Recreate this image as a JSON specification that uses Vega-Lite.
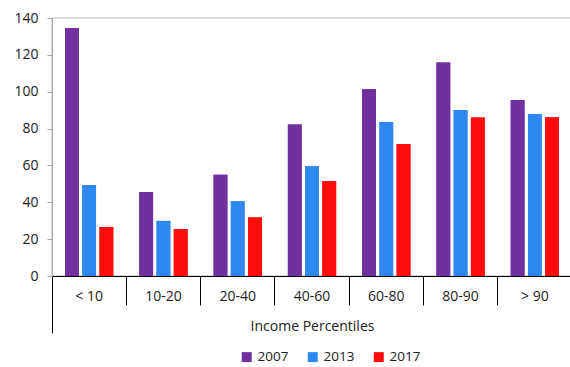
{
  "$schema": "https://vega.github.io/schema/vega-lite/v6.json",
  "autosize": "none",
  "padding": {"left": 52, "top": 18, "right": 0, "bottom": 91},
  "width": 520,
  "height": 258,
  "config": {
    "font": "Open Sans",
    "view": {"stroke": "#CFCFCF", "strokeWidth": 1.5},
    "axis": {"labelFont": "Open Sans", "titleFont": "Open Sans", "labelColor": "#222222", "titleColor": "#222222", "grid": false}
  },
  "data": {
    "values": [
      {"pct": "< 10", "year": "2007", "value": 134.6},
      {"pct": "< 10", "year": "2013", "value": 49.4},
      {"pct": "< 10", "year": "2017", "value": 26.6},
      {"pct": "10-20", "year": "2007", "value": 45.6},
      {"pct": "10-20", "year": "2013", "value": 29.9},
      {"pct": "10-20", "year": "2017", "value": 25.5},
      {"pct": "20-40", "year": "2007", "value": 55.0},
      {"pct": "20-40", "year": "2013", "value": 40.5},
      {"pct": "20-40", "year": "2017", "value": 31.8},
      {"pct": "40-60", "year": "2007", "value": 82.2},
      {"pct": "40-60", "year": "2013", "value": 59.7},
      {"pct": "40-60", "year": "2017", "value": 51.5},
      {"pct": "60-80", "year": "2007", "value": 101.4},
      {"pct": "60-80", "year": "2013", "value": 83.5},
      {"pct": "60-80", "year": "2017", "value": 71.6},
      {"pct": "80-90", "year": "2007", "value": 115.9},
      {"pct": "80-90", "year": "2013", "value": 90.1},
      {"pct": "80-90", "year": "2017", "value": 86.0},
      {"pct": "> 90", "year": "2007", "value": 95.5},
      {"pct": "> 90", "year": "2013", "value": 87.9},
      {"pct": "> 90", "year": "2017", "value": 86.2}
    ]
  },
  "encoding": {
    "xOffset": {
      "field": "year",
      "type": "nominal",
      "scale": {"paddingInner": 0.2, "paddingOuter": 0}
    },
    "y": {
      "field": "value",
      "type": "quantitative",
      "scale": {"domain": [0, 140]},
      "axis": {
        "title": null,
        "values": [0, 20, 40, 60, 80, 100, 120, 140],
        "labelFontSize": 14,
        "labelPadding": 9,
        "tickSize": 5,
        "domainColor": "#A6A6A6",
        "tickColor": "#A6A6A6"
      }
    },
    "color": {
      "field": "year",
      "type": "nominal",
      "scale": {"domain": ["2007", "2013", "2017"], "range": ["#7030A0", "#2E88F0", "#FF0D0D"]},
      "legend": {
        "title": null,
        "orient": "none",
        "direction": "horizontal",
        "legendX": 188,
        "legendY": 332,
        "symbolType": "square",
        "symbolSize": 100,
        "symbolStrokeWidth": 0,
        "labelFontSize": 13.5,
        "labelFont": "Open Sans",
        "labelColor": "#222222",
        "labelOffset": 4,
        "columnPadding": 17
      }
    }
  },
  "layer": [
    {
      "mark": {"type": "bar"},
      "encoding": {
        "x": {
          "field": "pct",
          "type": "nominal",
          "sort": ["< 10", "10-20", "20-40", "40-60", "60-80", "80-90", "> 90"],
          "scale": {"paddingInner": 0.35, "paddingOuter": 0.175},
          "axis": {
            "orient": "bottom",
            "title": "Income Percentiles",
            "titleFontSize": 14,
            "titleFontWeight": "normal",
            "titlePadding": 14,
            "labelAngle": 0,
            "labelFontSize": 14,
            "labelPadding": -16,
            "bandPosition": -0.2692,
            "domainColor": "#000000",
            "tickColor": "#000000",
            "tickSize": 29
          }
        }
      }
    },
    {
      "mark": {"type": "bar"},
      "encoding": {
        "x": {
          "field": "pct",
          "type": "nominal",
          "sort": ["< 10", "10-20", "20-40", "40-60", "60-80", "80-90", "> 90"],
          "axis": {
            "orient": "bottom",
            "title": null,
            "labels": false,
            "domain": false,
            "values": ["< 10"],
            "bandPosition": -0.2692,
            "tickColor": "#000000",
            "tickSize": 57
          }
        }
      }
    }
  ],
  "resolve": {"axis": {"x": "independent"}}
}
